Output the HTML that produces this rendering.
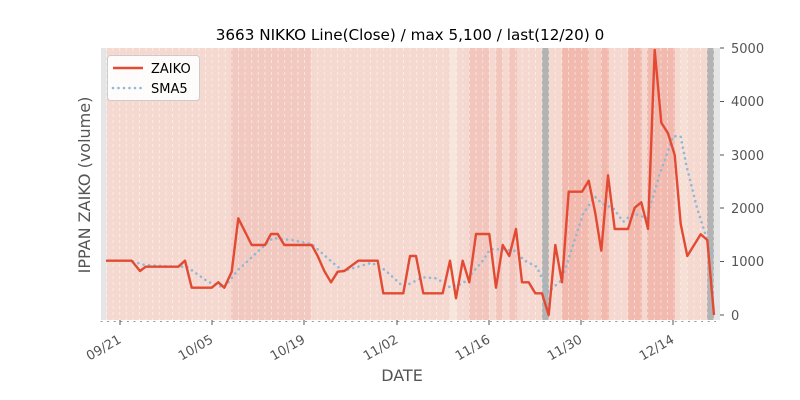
<!DOCTYPE html>
<html><head><meta charset="utf-8"><style>
html,body{margin:0;padding:0;background:#fff;}
svg{display:block;font-family:"DejaVu Sans","Liberation Sans",sans-serif;}
</style></head><body>
<svg width="800" height="400" viewBox="0 0 800 400" xmlns="http://www.w3.org/2000/svg">
<defs>
<pattern id="vd" x="106" y="48" width="6.6" height="6" patternUnits="userSpaceOnUse">
<line x1="0.5" y1="0" x2="0.5" y2="3" stroke="#ffffff" stroke-opacity="0.6" stroke-width="0.8"/>
</pattern>
</defs>
<rect x="0" y="0" width="800" height="400" fill="#fff"/>
<rect x="101" y="48" width="619" height="272" fill="#f5d9d0"/>
<rect x="101" y="48" width="6" height="272" fill="#e5e5e5"/>
<rect x="714" y="48" width="6" height="272" fill="#e5e5e5"/>
<rect x="231" y="48" width="80" height="272" fill="#f2c9c0"/>
<rect x="450" y="48" width="6.6" height="272" fill="#f6e6dc"/>
<rect x="469" y="48" width="20" height="272" fill="#f2c6bc"/>
<rect x="496" y="48" width="6.6" height="272" fill="#f2c6bc"/>
<rect x="509" y="48" width="8" height="272" fill="#f2c6bc"/>
<rect x="542" y="48" width="7" height="272" fill="#b3b3b3"/>
<rect x="562" y="48" width="27" height="272" fill="#f2b9ae"/>
<rect x="589" y="48" width="12" height="272" fill="#f4cbc1"/>
<rect x="601" y="48" width="8" height="272" fill="#f2b9ae"/>
<rect x="628" y="48" width="14" height="272" fill="#f2b9ae"/>
<rect x="647" y="48" width="28" height="272" fill="#f2b9ae"/>
<rect x="681" y="48" width="6" height="272" fill="#f6e0d6"/>
<rect x="707" y="48" width="7" height="272" fill="#b3b3b3"/>
<rect x="106" y="48" width="608" height="272" fill="url(#vd)"/>
<polyline fill="none" stroke="#8fb8d8" stroke-width="2.6" stroke-dasharray="0,5.5" stroke-linecap="round" points="133,261.7 145,265 178,266.7 186.7,266.7 208,281.7 224,287.7 238,270 261.7,248 273,238 291.7,240 311.7,244 331.7,261.7 343,271 371.7,262.7 385,270 403.3,286.7 423,277.3 436.7,278.3 450,287.3 463.3,283.3 483.3,260 490,249.3 503.3,249.3 516.7,251 523.3,260 536.7,266.7 548.3,291.7 561.7,280 583.3,213.3 595,196.7 601.7,203.3 613.3,208.3 623.3,221.7 633.3,213.3 646.7,218.3 660,173.3 673.3,136 680.7,136.7 686.7,166.7 696.7,206.7 706.7,238.3 713.3,256.7"/>
<polyline fill="none" stroke="#e24a33" stroke-width="2.4" stroke-linejoin="round" points="106,260.7 131.7,260.7 140,271 145.7,266.7 178.3,266.7 185,260.7 191.7,287.7 211.7,287.7 218.3,282.3 224.3,287.7 231.7,271.7 238.3,218.3 251.7,245 265,245 271,234 277.7,234 284.3,245 311.7,245 317.7,256 324.3,271 331,282.3 337.7,271.7 344.3,271 358.3,260.7 377.7,260.7 383.3,293.3 403.3,293.3 410,256 416,256 423.3,293.3 442.7,293.3 450,260.7 456,298.3 462.7,260.7 469.3,282.3 476,234 489.3,234 496,287.7 502.7,245 509.3,256 516,229 522,282.3 528.7,282.3 535.3,293.3 542,293.3 548.7,315 555.3,245 562,282.3 568.7,191.7 582,191.7 588.7,180.7 595.3,213.3 601.3,250.7 608,175.3 614.7,229 628,229 634.7,207.7 641.3,202.3 648,229 654.7,50 661.3,122.7 668,133.3 674.7,155 680.7,224 687.3,256 700.7,234.3 707.3,240 714,315"/>
<g stroke="#555" stroke-width="1">
<line x1="720" y1="48" x2="724" y2="48"/><line x1="720" y1="101.5" x2="724" y2="101.5"/>
<line x1="720" y1="155" x2="724" y2="155"/><line x1="720" y1="208" x2="724" y2="208"/>
<line x1="720" y1="261.5" x2="724" y2="261.5"/><line x1="720" y1="315" x2="724" y2="315"/>
</g>
<g font-size="13" fill="#555">
<text x="731" y="53">5000</text><text x="731" y="106">4000</text>
<text x="731" y="160">3000</text><text x="731" y="213">2000</text>
<text x="731" y="266">1000</text><text x="731" y="320">0</text>
</g>
<g stroke="#555" stroke-width="1">
<line x1="120" y1="320" x2="120" y2="325"/><line x1="212" y1="320" x2="212" y2="325"/>
<line x1="304" y1="320" x2="304" y2="325"/><line x1="397" y1="320" x2="397" y2="325"/>
<line x1="489" y1="320" x2="489" y2="325"/><line x1="581" y1="320" x2="581" y2="325"/>
<line x1="673" y1="320" x2="673" y2="325"/>
</g>
<g stroke="#777" stroke-width="0.8" stroke-dasharray="2,4.6">
<line x1="100.5" y1="321.5" x2="716" y2="321.5"/>
</g>
<g font-size="13" fill="#555">
<text transform="translate(122,342) rotate(-30)" text-anchor="end">09/21</text>
<text transform="translate(214,342) rotate(-30)" text-anchor="end">10/05</text>
<text transform="translate(306,342) rotate(-30)" text-anchor="end">10/19</text>
<text transform="translate(399,342) rotate(-30)" text-anchor="end">11/02</text>
<text transform="translate(491,342) rotate(-30)" text-anchor="end">11/16</text>
<text transform="translate(583,342) rotate(-30)" text-anchor="end">11/30</text>
<text transform="translate(675,342) rotate(-30)" text-anchor="end">12/14</text>
</g>
<text x="410" y="40" font-size="15.2" text-anchor="middle" fill="#000">3663 NIKKO Line(Close) / max 5,100 / last(12/20) 0</text>
<text x="402" y="381" font-size="16" text-anchor="middle" fill="#555">DATE</text>
<text transform="translate(90,185) rotate(-90)" font-size="16" text-anchor="middle" fill="#555">IPPAN ZAIKO (volume)</text>
<rect x="107.5" y="55.5" width="92" height="45" rx="3" fill="#fff" fill-opacity="0.9" stroke="#ccc"/>
<line x1="113" y1="68" x2="143" y2="68" stroke="#e24a33" stroke-width="2.4"/>
<line x1="113" y1="88" x2="143" y2="88" stroke="#8fb8d8" stroke-width="2.6" stroke-dasharray="0,5.5" stroke-linecap="round"/>
<text x="151" y="73" font-size="13" fill="#000">ZAIKO</text>
<text x="151" y="93" font-size="13" fill="#000">SMA5</text>
</svg>
</body></html>
